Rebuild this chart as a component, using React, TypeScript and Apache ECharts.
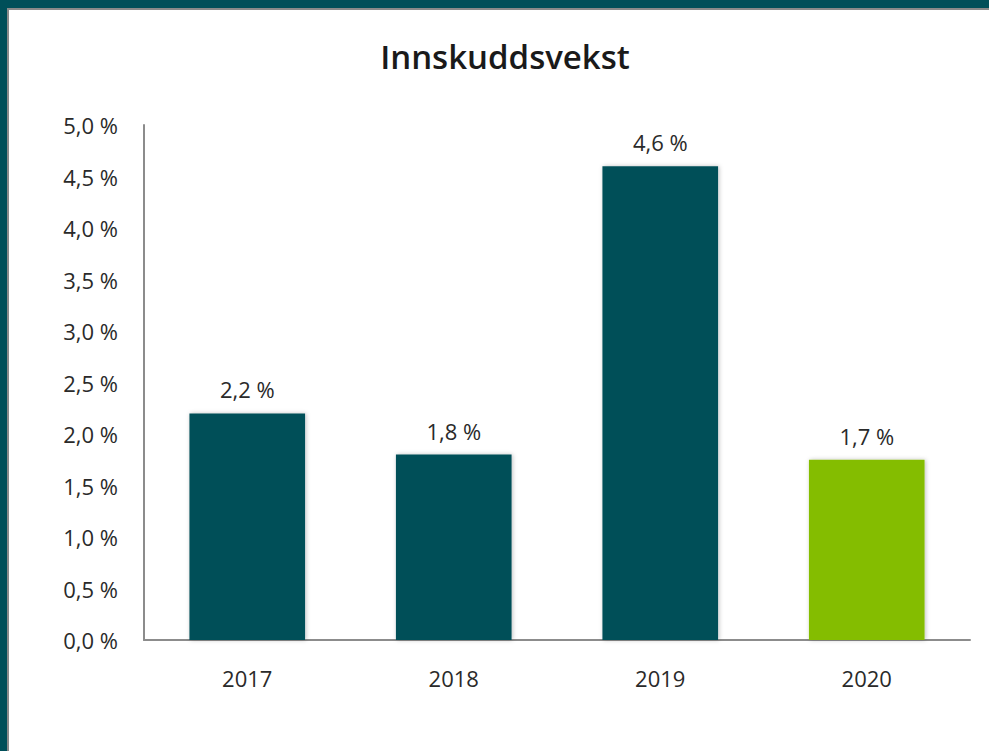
import React, { useEffect, useRef } from "react";
import * as echarts from "echarts";

const categories = ["2017", "2018", "2019", "2020"];
const values = [2.2, 1.8, 4.6, 1.75];
const valueLabels = ["2,2 %", "1,8 %", "4,6 %", "1,7 %"];
const barColors = ["#004F59", "#004F59", "#004F59", "#84BD00"];
const titleText = "Innskuddsvekst";

export default function App() {
  const ref = useRef<HTMLDivElement>(null);
  useEffect(() => {
    document.body.style.margin = "0";
    const chart = echarts.init(ref.current!, null, { renderer: "svg" });
    chart.setOption({
      animation: false,
      backgroundColor: "#ffffff",
      graphic: [
        {
          type: "text",
          x: 505,
          y: 56,
          style: {
            text: titleText,
            fontSize: 33,
            fontWeight: 600,
            fontFamily: "Open Sans",
            fill: "#1a1a1a",
            textAlign: "center",
            textVerticalAlign: "middle",
          },
        },
      ],
      grid: { left: 144, right: 19, top: 125, bottom: 111 },
      xAxis: {
        type: "category",
        data: categories,
        axisLine: { lineStyle: { color: "#8c8c8c", width: 2 } },
        axisTick: { show: false },
        axisLabel: {
          margin: 27,
          fontSize: 22,
          color: "#2a2a2a",
          fontFamily: "Open Sans",
        },
      },
      yAxis: {
        type: "value",
        min: 0,
        max: 5,
        interval: 0.5,
        splitLine: { show: false },
        axisLine: { show: true, lineStyle: { color: "#8c8c8c", width: 2 } },
        axisTick: { show: false },
        axisLabel: {
          margin: 26,
          fontSize: 22,
          color: "#2a2a2a",
          fontFamily: "Open Sans",
          formatter: (v: number) => v.toFixed(1).replace(".", ",") + " %",
        },
      },
      series: [
        {
          type: "bar",
          barWidth: "56%",
          data: values.map((v, i) => ({
            value: v,
            itemStyle: {
              color: barColors[i],
              shadowBlur: 4,
              shadowColor: "rgba(0,0,0,0.25)",
              shadowOffsetX: 1,
            },
            label: {
              show: true,
              position: "top",
              distance: 13,
              formatter: valueLabels[i],
              fontSize: 22,
              color: "#2a2a2a",
              fontFamily: "Open Sans",
            },
          })),
        },
      ],
    });
    return () => chart.dispose();
  }, []);
  return (
    <div style={{ position: "relative", width: 989, height: 751, overflow: "hidden" }}>
      <div ref={ref} style={{ position: "absolute", left: 0, top: 0, width: 989, height: 751 }} />
      <div style={{ position: "absolute", left: 0, top: 0, width: 989, height: 8, background: "#004F59" }} />
      <div style={{ position: "absolute", left: 7, top: 8, width: 982, height: 2, background: "#8a8a8a" }} />
      <div style={{ position: "absolute", left: 0, top: 0, width: 7, height: 751, background: "#004F59" }} />
      <div style={{ position: "absolute", left: 7, top: 8, width: 2, height: 743, background: "#8a8a8a" }} />
    </div>
  );
}
